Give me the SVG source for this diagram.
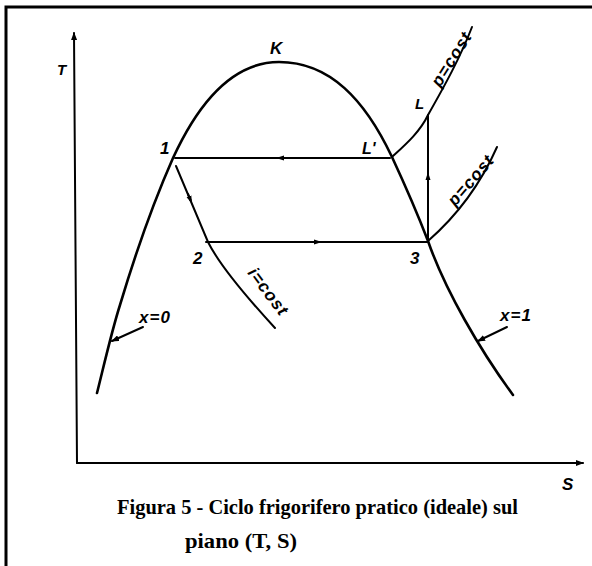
<svg xmlns="http://www.w3.org/2000/svg" width="592" height="566" viewBox="0 0 592 566">
<style>
.c{fill:none;stroke:#000;stroke-width:2.6;stroke-linecap:round;stroke-linejoin:round}
.t{fill:none;stroke:#000;stroke-width:2;stroke-linecap:round}
.lb{font-family:"Liberation Sans",Arial,sans-serif;font-style:italic;font-weight:bold;fill:#000}
.rl{font-size:17px;letter-spacing:1px}
.cap{font-family:"Liberation Serif","Times New Roman",serif;font-weight:bold;font-size:21px;fill:#000}
</style>
<defs>
<marker id="ah" markerWidth="8" markerHeight="6" refX="7" refY="3" orient="auto" markerUnits="userSpaceOnUse"><path d="M0,0 L8,3 L0,6 Z" fill="#000"/></marker>
<marker id="mid" markerWidth="8" markerHeight="6" refX="4" refY="3" orient="auto" markerUnits="userSpaceOnUse"><path d="M0,0.5 L8,3 L0,5.5 Z" fill="#000"/></marker>
</defs>
<rect x="0" y="0" width="592" height="566" fill="#fff"/>
<g id="frame"><path d="M6,566 V7 H592" fill="none" stroke="#000" stroke-width="3"/></g>
<g id="axes">
<path class="t" d="M77,463 L74,33" marker-end="url(#ah)"/>
<path class="t" d="M77,463 L583,463" marker-end="url(#ah)"/>
<text class="lb" x="57" y="75" font-size="15">T</text>
<text class="lb" x="562" y="490" font-size="17">S</text>
</g>
<g id="dome">
<path class="c" d="M97,393 C104,365 112,330 120,305 C135,255 150,210 173,158 C196,108 230,62 279,62 C330,62 365,100 392,157 C405,185 418,215 428,241 C445,290 480,350 513,395"/>
<text class="lb" x="270" y="54" font-size="17">K</text>
</g>
<g id="connectors">
<path class="t" d="M175,158 H390"/>
<path class="t" d="M287,158 H280" marker-end="url(#mid)"/>
<path class="t" d="M206,242 H428"/>
<path class="t" d="M312,242 H318" marker-end="url(#mid)"/>
<path class="t" d="M176,166 L208,242"/>
<path class="t" d="M188,194 L190.5,200" marker-end="url(#mid)"/>
<path class="t" d="M428,241 V115"/>
<path class="t" d="M428,182 V176" marker-end="url(#mid)"/>
<path class="t" d="M208,242 C218,262 240,290 275,328"/>
<path class="t" d="M392,157 C405,145 420,132 428,115 C445,85 460,58 472,27"/>
<path class="t" d="M428,241 C452,220 478,190 497,147"/>
<path class="t" d="M143,327 L112,341" marker-end="url(#ah)"/>
<path class="t" d="M507,327 L478,341" marker-end="url(#ah)"/>
</g>
<g id="labels">
<text class="lb" x="160" y="154" font-size="17">1</text>
<text class="lb" x="193" y="264" font-size="17">2</text>
<text class="lb" x="410" y="264" font-size="17">3</text>
<text class="lb" x="362" y="154" font-size="16">L'</text>
<text class="lb" x="415" y="109" font-size="15">L</text>
<text class="lb rl" x="139" y="323">x=0</text>
<text class="lb rl" x="500" y="321">x=1</text>
<text class="lb rl" transform="translate(247,273) rotate(53)">i=cost</text>
<text class="lb rl" transform="translate(440,88) rotate(-58)">p=cost</text>
<text class="lb rl" transform="translate(455,207) rotate(-49)">p=cost</text>
</g>
<g id="caption">
<text class="cap" x="117" y="514" textLength="401" lengthAdjust="spacingAndGlyphs">Figura 5 - Ciclo frigorifero pratico (ideale) sul</text>
<text class="cap" x="185" y="548" textLength="112" lengthAdjust="spacingAndGlyphs">piano (T, S)</text>
</g>
</svg>
